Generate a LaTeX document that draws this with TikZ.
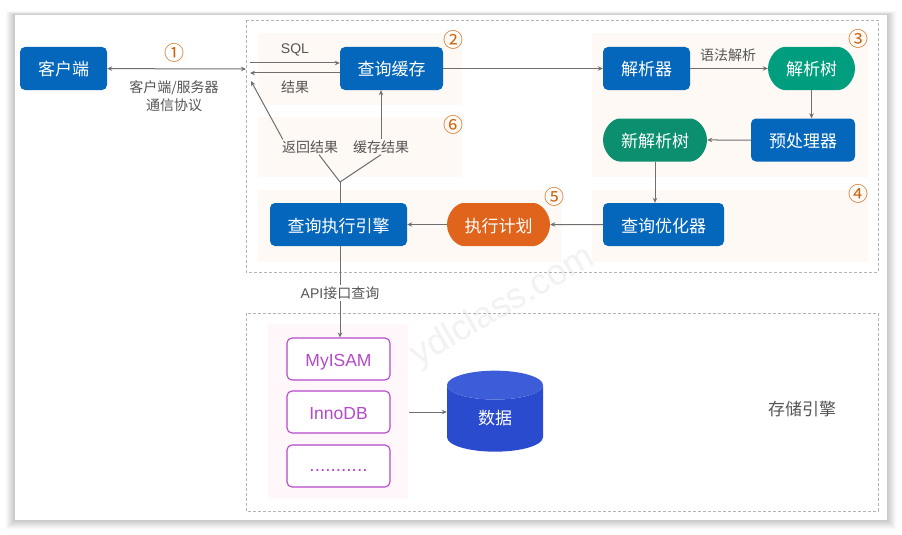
\documentclass[tikz,border=0pt]{standalone}
\usepackage{fontspec}
\setmainfont{Noto Sans CJK SC}
\newfontfamily\latinfont{Liberation Sans}
\usepackage{xcolor}
\usetikzlibrary{arrows.meta,positioning,shapes.geometric,shapes.misc}
\definecolor{blockblue}{HTML}{0567BC}
\definecolor{treegreen}{HTML}{009E7F}
\definecolor{newgreen}{HTML}{0B8F6E}
\definecolor{planorange}{HTML}{E0641C}
\definecolor{peach}{HTML}{FEF9F4}
\definecolor{pinkbg}{HTML}{FFF7F9}
\definecolor{engine}{HTML}{B548CC}
\definecolor{stepnum}{HTML}{C9650F}
\definecolor{textgray}{HTML}{555555}
\definecolor{linegray}{HTML}{6F6F6F}
\definecolor{dashgray}{HTML}{B4B4B4}
\definecolor{databody}{HTML}{2B4BCF}
\definecolor{datatop}{HTML}{3D5CD8}

\begin{document}
\begin{tikzpicture}[
        x=1pt, y=-1pt,
        block/.style={
            draw=none,
            rounded corners=5pt,
            fill=blockblue,
            text=white,
            minimum height=43pt,
            inner sep=0pt,
            text height=17pt,
            text depth=2pt,
            font=\fontsize{17}{19}\selectfont
        },
        tree/.style={
            block,
            rounded rectangle,
            fill=treegreen
        },
        store/.style={
            draw=engine,
            line width=1.1pt,
            rounded corners=5pt,
            fill=white,
            text=engine,
            minimum width=103pt,
            minimum height=42pt,
            inner sep=0pt,
            text height=15pt,
            text depth=1pt,
            font=\latinfont\fontsize{17.5}{19}\selectfont
        },
        note/.style={text=textgray, inner sep=1pt, align=center, font=\fontsize{14}{18}\selectfont},
        num/.style={text=stepnum, inner sep=0pt, font=\fontsize{20}{22}\selectfont},
        region/.style={fill=peach},
        frame/.style={draw=dashgray, densely dashed, line width=0.7pt},
        arrow/.style={-{Stealth[length=5pt,width=4.5pt]}, linegray, line width=1pt},
        line/.style={linegray, line width=1pt}
    ]
    \useasboundingbox (0,0) rectangle (902,535);
    \fill[white] (0,0) rectangle (902,535);

    % Card
    \foreach \s in {9,8,7,6,5,4,3,2,1}
        \fill[black, opacity=0.022] (15-\s,15-\s*0.4) rectangle (887+\s,520+\s);
    \fill[white] (15,15) rectangle (887,520);

    % Watermark
    \node[rotate=30, text=black!5, font=\latinfont\fontsize{36}{38}\selectfont] (mark) at (503,307) {ydlclass.com};

    % Regions
    \fill[region] (258,33) rectangle (462,105);
    \fill[region] (258,117) rectangle (462,177);
    \fill[region] (258,190) rectangle (562,262);
    \fill[region] (592,33) rectangle (868,177);
    \fill[region] (592,190) rectangle (868,262);
    \fill[pinkbg] (268,324) rectangle (408,499);

    \draw[frame] (246,20) rectangle (878,272);
    \draw[frame] (246,313) rectangle (878,511);

    % Blocks
    \node[block, minimum width=87pt] (client) at (63.5,68.5) {客户端};
    \node[block, minimum width=103pt] (cache) at (391.5,68.5) {查询缓存};
    \node[block, minimum width=87pt] (parser) at (646.5,68.5) {解析器};
    \node[tree, minimum width=87pt] (tree) at (811.5,68.5) {解析树};
    \node[block, minimum width=104pt] (prep) at (803,140) {预处理器};
    \node[tree, fill=newgreen, minimum width=104pt] (newtree) at (655,140) {新解析树};
    \node[block, minimum width=121pt] (optim) at (663.5,224.5) {查询优化器};
    \node[tree, fill=planorange, minimum width=103pt] (plan) at (498.5,224.5) {执行计划};
    \node[block, minimum width=137pt] (exec) at (338.5,224.5) {查询执行引擎};

    % Storage
    \node[store] (myisam) at (338.5,359) {MyISAM};
    \node[store] (innodb) at (338.5,412) {InnoDB};
    \node[store, text height=11pt, font=\latinfont\fontsize{19}{19}\selectfont] (dots) at (338.5,466) {...........};
    \node[cylinder, shape border rotate=90, aspect=0.85, cylinder uses custom fill,
        cylinder body fill=databody, cylinder end fill=datatop,
        minimum width=96pt, minimum height=81pt, inner sep=0pt, text=white,
        font=\fontsize{17}{19}\selectfont] (data) at (495,418.5) {\raisebox{-9pt}{数据}};

    % Labels
    \node[num] (n1) at (174,53) {①};
    \node[num] (n2) at (453,40) {②};
    \node[num] (n3) at (858,39) {③};
    \node[num] (n4) at (858,194) {④};
    \node[num] (n5) at (554,197) {⑤};
    \node[num] (n6) at (453,125) {⑥};
    \node[note] (proto) at (174,96) {客户端/服务器\\通信协议};
    \node[note, font=\latinfont\fontsize{14}{16}\selectfont] (sql) at (295,50) {SQL};
    \node[note] (result) at (295,87) {结果};
    \node[note] (syntax) at (728,55) {语法解析};
    \node[note] (back) at (310,147) {返回结果};
    \node[note] (saved) at (381,147) {缓存结果};
    \node[note] (api) at (340,293) {{\latinfont API}接口查询};
    \node[note, font=\fontsize{17}{19}\selectfont] (stlabel) at (802,409) {存储引擎};

    \coordinate (server) at (246,69);
    \coordinate (sqlin) at (250,63);
    \coordinate (resout) at (250,73);
    \coordinate (backend) at (251,81);
    \coordinate (fork) at (340,182);
    \coordinate (pinkedge) at (409,412);

    % Arrows
    \draw[arrow, {Stealth[length=5pt,width=4.5pt]}-{Stealth[length=5pt,width=4.5pt]}] (client) -- (server);
    \draw[arrow] (sqlin) -- (sqlin -| cache.west);
    \draw[arrow] (resout -| cache.west) -- (resout);
    \draw[arrow] (cache.east) -- (parser.west);
    \draw[arrow] (parser) -- (tree);
    \draw[arrow] (tree.south) -- (tree.south |- prep.north);
    \draw[arrow] (prep) -- (newtree);
    \draw[arrow] (newtree.south) -- (newtree.south |- optim.north);
    \draw[arrow] (optim) -- (plan);
    \draw[arrow] (plan) -- (exec);
    \draw[arrow] (saved.north) -- (saved.north |- cache.south);
    \draw[arrow] (back.north west)++(2,0) -- (backend);
    \draw[line] (back.south)++(9,0) -- (fork);
    \draw[line] (saved.south) -- (fork);
    \draw[line] (fork) -- (fork |- exec.north);
    \draw[line] (fork |- exec.south) -- (api.north -| fork);
    \draw[arrow] (api.south -| fork) -- (fork |- myisam.north);
    \draw[arrow] (pinkedge) -- (pinkedge -| data.west);

\end{tikzpicture}
\end{document}
